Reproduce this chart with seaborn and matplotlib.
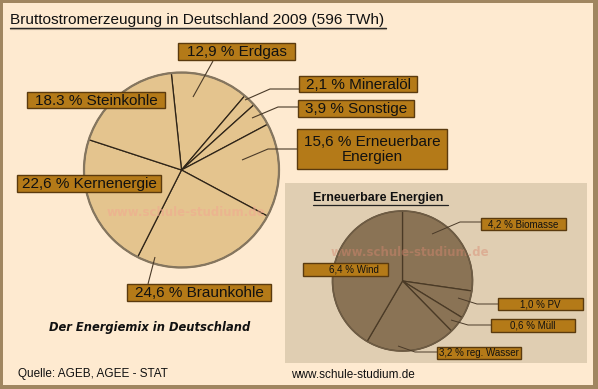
import matplotlib
matplotlib.use("Agg")
import matplotlib.pyplot as plt
from matplotlib.patches import Rectangle, Circle
import seaborn as sns

# ---- data ----
main_names = ["Erdgas", "Mineralöl", "Sonstige", "Erneuerbare\nEnergien",
              "Braunkohle", "Kernenergie", "Steinkohle"]
main_values = [12.9, 2.1, 3.9, 15.6, 24.6, 22.6, 18.3]
main_texts = ["12,9", "2,1", "3,9", "15,6", "24,6", "22,6", "18.3"]

ee_names = ["Biomasse", "PV", "Müll", "reg. Wasser", "Wind"]
ee_values = [4.2, 1.0, 0.6, 3.2, 6.4]

title = "Bruttostromerzeugung in Deutschland 2009 (596 TWh)"
sub_title = "Erneuerbare Energien"
caption = "Der Energiemix in Deutschland"
source = "Quelle: AGEB, AGEE - STAT"
site = "www.schule-studium.de"

sns.set_style("white")
plt.rcParams["font.family"] = ["Liberation Sans", "DejaVu Sans"]

W, H = 598, 389
BG = "#FEEAD0"
BORDER = "#A08660"
PIE1 = "#E4C48E"
PIE2 = "#8A7355"
PANEL = "#E0CEB2"
BOX = "#B47A18"
BOXEDGE = "#5A3A0E"

fig = plt.figure(figsize=(W / 100, H / 100), dpi=100)
fig.patch.set_facecolor(BORDER)
ax = fig.add_axes([0, 0, 1, 1])
ax.set_xlim(0, W)
ax.set_ylim(0, H)
ax.axis("off")

def Y(py):
    return H - py

# background with border
ax.add_patch(Rectangle((3, Y(385)), W - 8, 382, facecolor=BG, edgecolor="none", zorder=0))
# inner panel
ax.add_patch(Rectangle((285, Y(363)), 302, 180, facecolor=PANEL, edgecolor="none", zorder=0.5))

def label(ax, text, x0, y0, x1, y1, fs, dx=0):
    ax.add_patch(Rectangle((x0, Y(y1)), x1 - x0, y1 - y0, facecolor=BOX,
                           edgecolor=BOXEDGE, lw=1.0, zorder=5))
    ax.text((x0 + x1) / 2 + dx, Y((y0 + y1) / 2 + 0.5), text, ha="center", va="center",
            fontsize=fs, color="#111111", zorder=6, multialignment="center",
            linespacing=1.15)

def leader(ax, pts, color="#4a3a28", lw=0.8):
    xs = [p[0] for p in pts]
    ys = [Y(p[1]) for p in pts]
    ax.plot(xs, ys, color=color, lw=lw, zorder=4, solid_capstyle="butt")

def fmt(v):
    return f"{v:.1f}".replace(".", ",") + " %"

# ---- main pie ----
c1 = (181.5, Y(170))
r1 = 97.5
ax.pie(main_values, startangle=96, counterclock=False, center=c1, radius=r1,
       colors=[PIE1] * len(main_values),
       wedgeprops=dict(edgecolor="#2e2418", linewidth=0.9), normalize=True,
       frame=True)
ax.add_patch(Circle(c1, r1, facecolor="none", edgecolor="#85765f", lw=1.6, zorder=3))

# ---- renewable pie ----
c2 = (402.5, Y(281))
r2 = 70
ax.pie(ee_values, startangle=90, counterclock=False, center=c2, radius=r2,
       colors=[PIE2] * len(ee_values),
       wedgeprops=dict(edgecolor="#4a3a26", linewidth=0.9), normalize=True,
       frame=True)
ax.add_patch(Circle(c2, r2, facecolor="none", edgecolor="#6e5c44", lw=1.2, zorder=3))

ax.set_xlim(0, W)
ax.set_ylim(0, H)
ax.set_aspect("auto")
ax.axis("off")

# watermarks
ax.text(186, Y(212), site, ha="center", va="center", fontsize=8.5, fontweight="bold",
        color="#F2A890", alpha=0.55, zorder=2, family="DejaVu Sans")
ax.text(410, Y(253), site, ha="center", va="center", fontsize=8.5, fontweight="bold",
        color="#D88870", alpha=0.45, zorder=2, family="DejaVu Sans")

# main leaders
leader(ax, [(193, 97), (213, 61)])
leader(ax, [(245, 100), (270, 89), (299, 89)])
leader(ax, [(252, 118), (278, 107), (298, 107)])
leader(ax, [(242, 160), (268, 149), (297, 149)])
leader(ax, [(155, 257), (148, 284)])

# main labels
main_boxes = [(178, 43, 295, 60), (299, 76, 417, 92), (298, 100, 414, 117),
              (297, 129, 447, 169), (127, 284, 271, 301), (17, 175, 161, 192),
              (27, 92, 165, 108)]
for name, txt, b in zip(main_names, main_texts, main_boxes):
    label(ax, f"{txt} % {name}", *b, fs=11)

# small leaders
leader(ax, [(432, 234), (460, 222), (481, 222)], color="#4a3a28", lw=0.7)
leader(ax, [(458, 298), (477, 304), (498, 304)], color="#4a3a28", lw=0.7)
leader(ax, [(451, 320), (468, 325), (491, 325)], color="#4a3a28", lw=0.7)
leader(ax, [(398, 346), (415, 352), (437, 352)], color="#4a3a28", lw=0.7)

ee_boxes = [(481, 218, 566, 230), (498, 298, 583, 310), (491, 319, 575, 332),
            (437, 347, 521, 359), (303, 263, 388, 276)]
for name, v, b in zip(ee_names, ee_values, ee_boxes):
    label(ax, f"{fmt(v)} {name}", *b, fs=7, dx=(8 if name == "Wind" else 0))

# titles
ax.text(10, Y(20), title, ha="left", va="center", fontsize=11.1, color="#111111", zorder=6)
ax.plot([10, 386], [Y(27.5), Y(27.5)], color="#222222", lw=1.0, zorder=6)
ax.plot([10, 386], [Y(28.8), Y(28.8)], color="#b0a08a", lw=0.8, zorder=6)

ax.text(313, Y(198), sub_title, ha="left", va="center", fontsize=9, fontweight="bold",
        color="#111111", zorder=6)
ax.plot([313, 448], [Y(204.5), Y(204.5)], color="#222222", lw=0.9, zorder=6)

ax.text(150, Y(327), caption, ha="center", va="center", fontsize=8.3, fontweight="bold",
        fontstyle="italic", color="#111111", zorder=6, family="DejaVu Sans")
ax.text(18, Y(374), source, ha="left", va="center", fontsize=8.5, color="#111111", zorder=6)
ax.text(291, Y(375), site, ha="left", va="center", fontsize=8.5, color="#111111", zorder=6)

fig.savefig("out.png", dpi=100, facecolor=fig.get_facecolor())
